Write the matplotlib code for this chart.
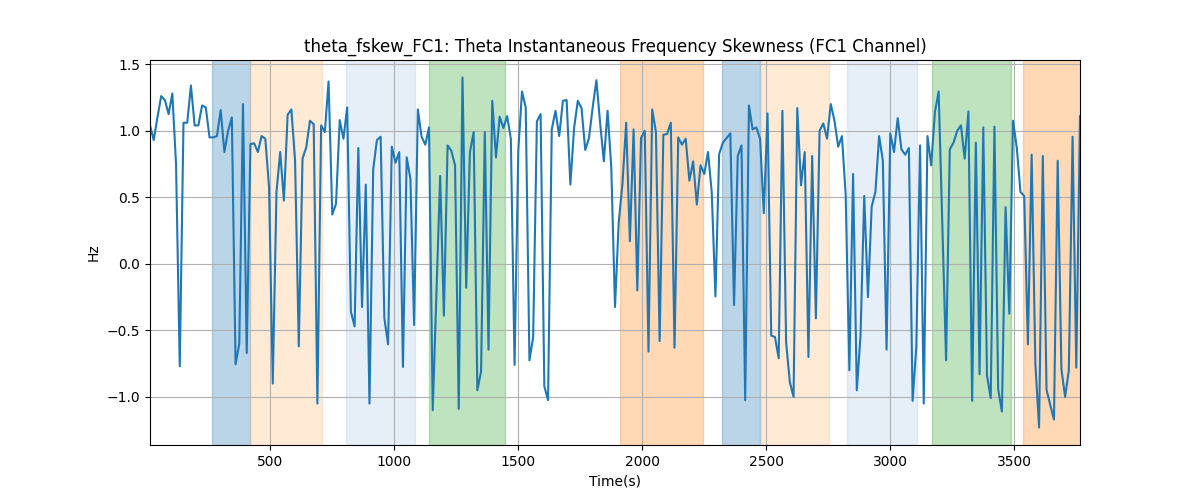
import numpy as np
import matplotlib
matplotlib.use("Agg")
import matplotlib.pyplot as plt

values = [
    1.04, 0.93, 1.1, 1.26, 1.23, 1.125, 1.28, 0.75, -0.77, 1.06,
    1.06, 1.34, 1.04, 1.04, 1.19, 1.175, 0.95, 0.95, 0.96, 1.155,
    0.84, 1.0, 1.1, -0.755, -0.6, 1.2, -0.67, 0.9, 0.905, 0.84,
    0.96, 0.94, 0.575, -0.9, 0.54, 0.84, 0.475, 1.12, 1.16, 0.775,
    -0.62, 0.79, 0.875, 1.075, 1.05, -1.05, 1.04, 0.99, 1.37, 0.37,
    0.45, 1.08, 0.94, 1.175, -0.36, -0.47, 0.87, -0.325, 0.595, -1.05,
    0.71, 0.93, 0.955, -0.41, -0.605, 0.88, 0.76, 0.84, -0.775, 0.8,
    0.64, -0.46, 1.16, 0.955, 0.895, 1.025, -1.1, -0.22, 0.66,
    -0.39, 0.89, 0.85, 0.74, -1.09, 1.4, -0.18, 0.84, 0.99, -0.95,
    -0.81, 0.99, -0.645, 1.225, 0.8, 1.105, 1.02, 1.11, 0.94, -0.76,
    0.85, 1.295, 1.175, -0.725, -0.55, 1.07, 1.125, -0.92, -1.025, 1.01,
    1.15, 0.96, 1.225, 1.23, 0.595, 1.02, 1.225, 1.17, 0.855, 0.945,
    1.175, 1.38, 1.06, 0.77, 1.15, 0.725, -0.325, 0.31, 0.6, 1.06,
    0.17, 1.01, -0.2, 0.945, 1.0, -0.66, 1.16, 0.99, -0.58, 0.97,
    0.975, 1.06, -0.63, 0.95, 0.895, 0.94, 0.625, 0.77, 0.445, 0.74,
    0.675, 0.84, 0.54, -0.245, 0.825,
    0.91, 0.945, 0.98, -0.31, 0.81, 0.89, -1.025, 1.19, 1.01, 1.025,
    0.94, 0.38, 1.13, -0.54, -0.55, -0.71, 1.15, -0.59, -0.89, -1.0,
    1.17, 0.59, 0.84, -0.7, 0.81, -0.41, 1.0, 1.055, 0.94, 1.2,
    1.075, 0.88, 0.96, 0.525, -0.8, 0.675, -0.95, -0.54, 0.51, -0.25,
    0.43, 0.54, 0.96, 0.775, -0.645, 0.98, 0.84, 1.095, 0.86, 0.82,
    0.87, -1.03, -0.625, 0.89, -1.05, 0.96, 0.74, 1.14, 1.295, 0.28,
    -0.725, 0.86, 0.91, 1.0, 1.04, 0.79, 1.145, -1.03, 0.91, -0.83,
    1.025, -0.84, -1.01, 1.03, -0.94,
    -1.11, 0.425, -0.375, 1.075, 0.875, 0.54, 0.51, -0.605, 0.82, -0.75,
    -1.23, 0.81, -0.945, -1.06, -1.17, 0.775, -0.79, -1.0, -0.8, 0.955,
    -0.78, 1.11,
]
times = [15 * (i + 1) for i in range(len(values))]

span_starts = [265, 420, 806, 1141, 1911, 2322, 2480, 2826, 3169, 3536]
span_ends = [420, 710, 1085, 1447, 2246, 2476, 2754, 3109, 3488, 3800]
span_colors = ["#1f77b4", "#ffbb78", "#aec7e8", "#2ca02c", "#ff7f0e",
               "#1f77b4", "#ffbb78", "#aec7e8", "#2ca02c", "#ff7f0e"]

fig, ax = plt.subplots(figsize=(12, 5), dpi=100)
for s, e, c in zip(span_starts, span_ends, span_colors):
    ax.axvspan(s, e, color=c, alpha=0.3)
ax.plot(times, values, color="#1f77b4", linewidth=1.5)
ax.set_xlim(times[0], times[-1])
ax.grid(True)
ax.set_title("theta_fskew_FC1: Theta Instantaneous Frequency Skewness (FC1 Channel)")
ax.set_xlabel("Time(s)")
ax.set_ylabel("Hz")
fig.savefig("out.png")
